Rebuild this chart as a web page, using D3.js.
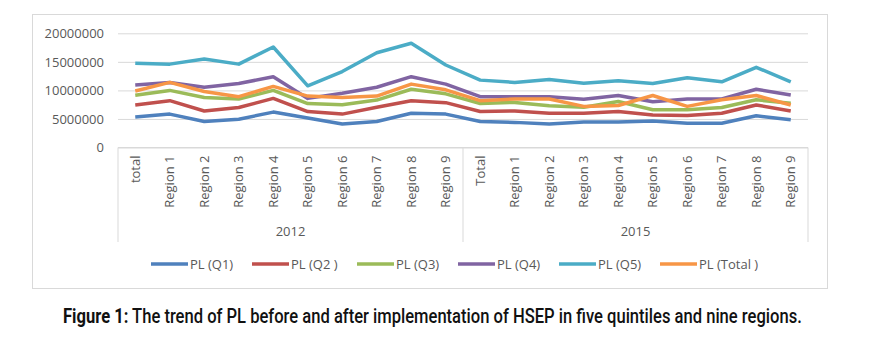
<!DOCTYPE html>
<html>
<head>
<meta charset="utf-8">
<script src="https://cdn.jsdelivr.net/npm/d3@7"></script>
<style>
  body { margin: 0; background: #fff; }
  svg text { font-family: "Open Sans", sans-serif; }
</style>
</head>
<body>
<div class="chart"></div>
<script>
// categories (two year groups of 10)
var categories = ["total", "Region 1", "Region 2", "Region 3", "Region 4", "Region 5", "Region 6", "Region 7", "Region 8", "Region 9",
                  "Total", "Region 1", "Region 2", "Region 3", "Region 4", "Region 5", "Region 6", "Region 7", "Region 8", "Region 9"];
var years = ["2012", "2015"];
var yTicks = [0, 5000000, 10000000, 15000000, 20000000];

var seriesNames = ["PL (Q1)", "PL (Q2 )", "PL (Q3)", "PL (Q4)", "PL (Q5)", "PL (Total )"];
var colors = ["#4f81bd", "#c0504d", "#9bbb59", "#8064a2", "#4bacc6", "#f79646"];

var q1 = [5350000, 5850000, 4550000, 4950000, 6200000, 5150000, 4100000, 4550000, 6000000, 5850000,
          4550000, 4400000, 4100000, 4450000, 4450000, 4650000, 4250000, 4250000, 5550000, 4850000];
var q2 = [7450000, 8200000, 6400000, 7000000, 8600000, 6300000, 5850000, 7050000, 8200000, 7850000,
          6300000, 6400000, 6000000, 6000000, 6300000, 5700000, 5600000, 6000000, 7450000, 6400000];
var q3 = [9150000, 10000000, 8750000, 8500000, 10000000, 7700000, 7500000, 8300000, 10200000, 9400000,
          7700000, 7900000, 7300000, 7050000, 8050000, 6600000, 6600000, 7000000, 8350000, 7750000];
var q4 = [10950000, 11400000, 10550000, 11200000, 12400000, 8600000, 9500000, 10550000, 12400000, 11100000,
          8900000, 8900000, 8900000, 8450000, 9100000, 8000000, 8500000, 8500000, 10200000, 9200000];
var q5 = [14750000, 14600000, 15500000, 14600000, 17600000, 10800000, 13300000, 16600000, 18250000, 14450000,
          11800000, 11400000, 11900000, 11250000, 11700000, 11200000, 12200000, 11500000, 14050000, 11500000];
var plTotal = [9900000, 11400000, 9800000, 8900000, 10700000, 9000000, 8750000, 9000000, 11100000, 10100000,
               8200000, 8500000, 8500000, 7200000, 7350000, 9100000, 7200000, 8350000, 9100000, 7450000];

var seriesValues = [q1, q2, q3, q4, q5, plTotal];

var W = 873, H = 348;
var svg = d3.select(".chart").append("svg")
  .attr("width", W)
  .attr("height", H);

// chart frame
svg.append("rect")
  .attr("x", 32.5).attr("y", 14.5)
  .attr("width", 795).attr("height", 274)
  .attr("fill", "#fff").attr("stroke", "#d9d9d9");

var x = d3.scaleBand()
  .domain(d3.range(categories.length))
  .range([118, 808]);

var y = d3.scaleLinear()
  .domain([0, 20000000])
  .range([147.5, 33.3]);

// gridlines + y labels
var yAxis = svg.append("g")
  .attr("transform", "translate(118,0)")
  .call(d3.axisLeft(y).tickValues(yTicks).tickSize(-690).tickFormat(d3.format("d")).tickPadding(14));
yAxis.select(".domain").remove();
yAxis.selectAll(".tick line").attr("stroke", "#d9d9d9");
yAxis.selectAll(".tick text")
  .attr("fill", "#595959")
  .style("font-size", "13px");

// category axis
var xAxis = svg.append("g")
  .attr("transform", "translate(0,147.5)")
  .call(d3.axisBottom(x).tickSize(0).tickFormat(function(i) { return categories[i]; }));
xAxis.select(".domain").attr("stroke", "#d9d9d9").attr("d", "M118,0H808");
xAxis.selectAll(".tick text")
  .attr("fill", "#595959")
  .style("font-size", "13px")
  .attr("text-anchor", "end")
  .attr("transform", "rotate(-90)")
  .attr("x", -8)
  .attr("y", 0)
  .attr("dy", "0.35em");

// group separators and year labels
var groupEdges = [0, 10, 20];
svg.selectAll(".sep")
  .data(groupEdges)
  .enter().append("line")
  .attr("class", "sep")
  .attr("x1", function(d) { return d < 20 ? x(d) : x.range()[1]; })
  .attr("x2", function(d) { return d < 20 ? x(d) : x.range()[1]; })
  .attr("y1", 147.5)
  .attr("y2", 242)
  .attr("stroke", "#d9d9d9");

svg.selectAll(".year")
  .data(years)
  .enter().append("text")
  .attr("class", "year")
  .attr("x", function(d, i) { return (x(i * 10) + x(i * 10 + 9) + x.bandwidth()) / 2; })
  .attr("y", 236)
  .attr("text-anchor", "middle")
  .attr("fill", "#595959")
  .style("font-size", "13px")
  .text(function(d) { return d; });

// lines
var line = d3.line()
  .x(function(d, i) { return x(i) + x.bandwidth() / 2; })
  .y(function(d) { return y(d); });

svg.selectAll(".series")
  .data(seriesValues)
  .enter().append("path")
  .attr("class", "series")
  .attr("d", line)
  .attr("fill", "none")
  .attr("stroke", function(d, i) { return colors[i]; })
  .attr("stroke-width", 3.5)
  .attr("stroke-linejoin", "round");

// legend
var legendX = [151, 252, 357, 458, 559, 660];
var legend = svg.selectAll(".legend")
  .data(seriesNames)
  .enter().append("g")
  .attr("class", "legend")
  .attr("transform", function(d, i) { return "translate(" + legendX[i] + ",264)"; });
legend.append("line")
  .attr("x1", 0).attr("x2", 37)
  .attr("stroke", function(d, i) { return colors[i]; })
  .attr("stroke-width", 3.5);
legend.append("text")
  .attr("x", 39)
  .attr("dy", "0.35em")
  .attr("fill", "#595959")
  .style("font-size", "13px")
  .text(function(d) { return d; });

// caption, squeezed horizontally to look like a condensed face
var capG = svg.append("g");
var cap = capG.append("text")
  .attr("x", 0)
  .attr("y", 0)
  .style("font-family", "Roboto, sans-serif")
  .style("font-size", "20px")
  .attr("fill", "#111");
cap.append("tspan").style("font-weight", "700").text("Figure 1:");
cap.append("tspan").style("font-weight", "500").text(" The trend of PL before and after implementation of HSEP in five quintiles and nine regions.");
var capW = cap.node().getComputedTextLength();
capG.attr("transform", "translate(63,323) scale(" + (739 / capW) + ",1)");
</script>
</body>
</html>
